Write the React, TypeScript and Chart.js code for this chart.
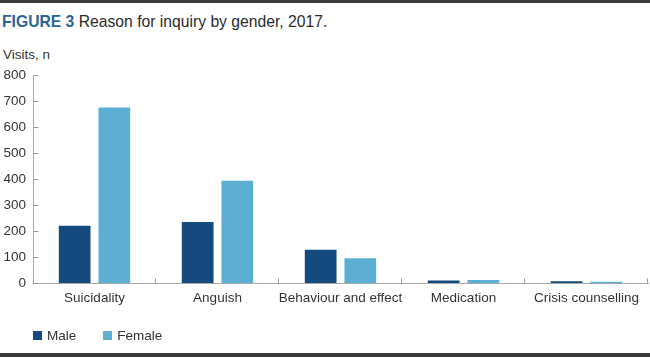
import React, { useEffect, useRef } from "react";
import { Chart, registerables } from "chart.js";

Chart.register(...registerables);

const categories = ["Suicidality", "Anguish", "Behaviour and effect", "Medication", "Crisis counselling"];
const maleValues = [220, 235, 128, 10, 7];
const femaleValues = [675, 393, 95, 12, 5];
const seriesNames = ["Male", "Female"];
const seriesColors = ["#144a7e", "#5caed3"];
const yTicks = [0, 100, 200, 300, 400, 500, 600, 700, 800];

const FONT = "'Liberation Sans', Arial, Helvetica, sans-serif";

const innerTicks = {
  id: "innerTicks",
  afterDraw(chart: any) {
    const ctx = chart.ctx;
    const x = chart.scales.x;
    const y = chart.scales.y;
    ctx.save();
    ctx.strokeStyle = "#9a9a9a";
    ctx.lineWidth = 1;
    ctx.beginPath();
    const left = Math.round(y.right) + 0.5;
    y.ticks.forEach((t: any) => {
      const py = Math.round(y.getPixelForValue(t.value)) + 0.5;
      ctx.moveTo(left, py);
      ctx.lineTo(left + 5, py);
    });
    const n = categories.length;
    const w = (x.right - x.left) / n;
    const bottom = Math.round(x.top) + 0.5;
    for (let i = 1; i <= n; i++) {
      const px = Math.round(x.getPixelForValue(i - 1) + w / 2) - 0.5;
      ctx.moveTo(px, bottom);
      ctx.lineTo(px, bottom - 5);
    }
    ctx.stroke();
    ctx.restore();
  },
};

export default function App() {
  const ref = useRef<HTMLCanvasElement | null>(null);
  useEffect(() => {
    document.body.style.margin = "0";
    const chart = new Chart(ref.current as HTMLCanvasElement, {
      type: "bar",
      data: {
        labels: categories,
        datasets: [
          { label: seriesNames[0], data: maleValues, backgroundColor: seriesColors[0], categoryPercentage: 0.645, barPercentage: 0.8 },
          { label: seriesNames[1], data: femaleValues, backgroundColor: seriesColors[1], categoryPercentage: 0.645, barPercentage: 0.8 },
        ],
      },
      options: {
        animation: false,
        responsive: false,
        maintainAspectRatio: false,
        layout: { padding: { top: 75, left: 0, right: 2, bottom: 0 } },
        plugins: { legend: { display: false }, tooltip: { enabled: false }, title: { display: false } },
        scales: {
          x: {
            grid: { display: false, drawTicks: false },
            border: { display: true, color: "#a8a8a8", width: 1 },
            ticks: { color: "#333", font: { family: FONT, size: 13.5 }, padding: 7, maxRotation: 0, autoSkip: false },
            afterFit: (s: any) => { s.height = 75; },
          },
          y: {
            min: 0,
            max: 800,
            afterBuildTicks: (s: any) => { s.ticks = yTicks.map((v) => ({ value: v })); },
            grid: { display: false, drawTicks: false },
            border: { display: true, color: "#a8a8a8", width: 1 },
            ticks: { color: "#333", font: { family: FONT, size: 13.5 }, padding: 7 },
            afterFit: (s: any) => { s.width = 33; },
          },
        },
      },
      plugins: [innerTicks],
    });
    return () => chart.destroy();
  }, []);

  return (
    <div style={{ position: "fixed", left: 0, top: 0, width: 650, height: 358, background: "#fff", fontFamily: FONT, color: "#333" }}>
      <div style={{ position: "absolute", left: 0, top: 0, width: 650, height: 3, background: "#3a3a3a" }} />
      <div style={{ position: "absolute", left: 2, top: 13, fontSize: 15.7, whiteSpace: "nowrap", color: "#2b2b2b" }}>
        <span style={{ fontWeight: "bold", color: "#2d6496" }}>FIGURE 3</span> Reason for inquiry by gender, 2017.
      </div>
      <div style={{ position: "absolute", left: 3, top: 47, fontSize: 13.5 }}>Visits, n</div>
      <canvas ref={ref} width={650} height={358} style={{ position: "absolute", left: 0, top: 0 }} />
      <div style={{ position: "absolute", left: 33, top: 328, fontSize: 13.5, display: "flex", alignItems: "center" }}>
        {seriesNames.map((n, i) => (
          <div key={n} style={{ display: "flex", alignItems: "center", marginRight: 27 }}>
            <span style={{ display: "inline-block", width: 9, height: 9, background: seriesColors[i], marginRight: 5 }} />
            <span>{n}</span>
          </div>
        ))}
      </div>
      <div style={{ position: "absolute", left: 0, top: 353, width: 650, height: 4, background: "#3a3a3a" }} />
    </div>
  );
}
